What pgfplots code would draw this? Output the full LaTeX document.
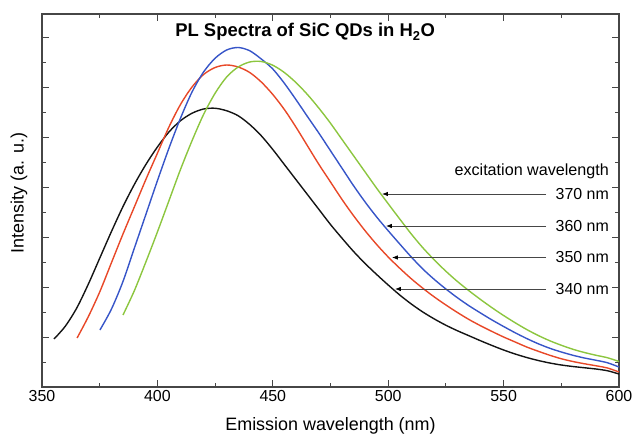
\documentclass[border=0pt]{standalone}
\usepackage{fontspec}
\setmainfont{Liberation Sans}
\usepackage{pgfplots}
\pgfplotsset{compat=1.18}
\usetikzlibrary{arrows.meta}
\definecolor{cblack}{RGB}{20,20,20}
\definecolor{cred}{RGB}{232,72,40}
\definecolor{cblue}{RGB}{55,85,200}
\definecolor{cgreen}{RGB}{140,198,63}
\definecolor{axc}{RGB}{70,70,70}
\begin{document}
\begin{tikzpicture}
\begin{axis}[
  name=ax, at={(0,0)}, anchor=south west,
  width=577bp, height=373bp, scale only axis,
  xmin=350, xmax=600, ymin=0, ymax=14.92,
  xtick={350,400,...,600}, minor xtick={375,425,...,575},
  ytick={2,4,...,14}, minor ytick={1,3,...,13}, yticklabels={},
  tick align=inside,
  major tick length=7bp, minor tick length=4bp,
  axis line style={axc, line width=1.1bp},
  every tick/.style={axc, line width=0.9bp},
  ticklabel style={font=\fontsize{16}{18}\selectfont},
  /pgf/number format/assume math mode=true,
  xticklabel style={/pgf/number format/1000 sep={}},
  xlabel={Emission wavelength (nm)},
  ylabel={Intensity (a. u.)},
  label style={font=\fontsize{18}{20}\selectfont},
  xlabel style={at={(axis description cs:0.5,0)}, anchor=base, yshift=-43bp},
  ylabel style={at={(axis description cs:-0.040,0.52)}, anchor=center},
]
% 340 nm
\addplot[cblack, line width=1.4bp, smooth] coordinates {
(355.2,1.92) (360,2.42) (365,3.15) (370,4.1) (375,5.15) (380,6.2) (385,7.2)
(390,8.1) (395,8.9) (400,9.6) (405,10.2) (410,10.65) (415,10.95) (420,11.12)
(425,11.15) (430,11.05) (435,10.85) (440,10.5) (445,10.05) (450,9.5) (455,8.9)
(460,8.3) (465,7.7) (470,7.1) (475,6.5) (480,5.95) (485,5.42) (490,4.94)
(495,4.5) (500,4.08) (505,3.68) (510,3.32) (515,3.0) (520,2.72) (525,2.47)
(530,2.25) (535,2.05) (540,1.85) (545,1.66) (550,1.48) (555,1.32) (560,1.18)
(565,1.06) (570,0.96) (575,0.88) (580,0.82) (585,0.77) (590,0.72) (595,0.65) (600,0.52)};
% 350 nm
\addplot[cred, line width=1.4bp, smooth] coordinates {
(365.2,1.96) (370,2.8) (375,3.8) (380,4.95) (385,6.1) (390,7.2) (395,8.3)
(400,9.35) (405,10.4) (410,11.3) (415,12.0) (420,12.5) (425,12.78) (430,12.88)
(435,12.8) (440,12.58) (445,12.2) (450,11.7) (455,11.1) (460,10.4) (465,9.65)
(470,8.9) (475,8.2) (480,7.5) (485,6.85) (490,6.25) (495,5.7) (500,5.2)
(505,4.75) (510,4.33) (515,3.95) (520,3.6) (525,3.28) (530,2.98) (535,2.7)
(540,2.45) (545,2.22) (550,2.0) (555,1.8) (560,1.6) (565,1.43) (570,1.27)
(575,1.13) (580,1.02) (585,0.93) (590,0.85) (595,0.76) (600,0.6)};
% 360 nm
\addplot[cblue, line width=1.4bp, smooth] coordinates {
(375.1,2.28) (380,3.1) (385,4.2) (390,5.55) (395,6.9) (400,8.25) (405,9.55)
(410,10.75) (415,11.8) (420,12.6) (425,13.15) (430,13.48) (435,13.58) (440,13.45)
(445,13.12) (450,12.72) (455,12.15) (460,11.5) (465,10.82) (470,10.15) (475,9.45)
(480,8.75) (485,8.05) (490,7.4) (495,6.8) (500,6.25) (505,5.72) (510,5.2)
(515,4.72) (520,4.3) (525,3.92) (530,3.57) (535,3.25) (540,2.96) (545,2.68)
(550,2.42) (555,2.17) (560,1.94) (565,1.73) (570,1.55) (575,1.4) (580,1.27)
(585,1.16) (590,1.07) (595,0.97) (600,0.8)};
% 370 nm
\addplot[cgreen, line width=1.4bp, smooth] coordinates {
(385.1,2.88) (390,3.85) (395,5.0) (400,6.2) (405,7.45) (410,8.7) (415,9.85)
(420,10.9) (425,11.75) (430,12.4) (435,12.8) (440,13.0) (445,13.02) (450,12.87)
(455,12.58) (460,12.18) (465,11.7) (470,11.15) (475,10.55) (480,9.9) (485,9.25)
(490,8.6) (495,7.95) (500,7.33) (505,6.72) (510,6.12) (515,5.57) (520,5.08)
(525,4.63) (530,4.22) (535,3.85) (540,3.5) (545,3.17) (550,2.86) (555,2.57)
(560,2.3) (565,2.06) (570,1.85) (575,1.67) (580,1.51) (585,1.38) (590,1.27)
(595,1.17) (600,1.02)};
% title
\node[anchor=base, font=\bfseries\fontsize{18.5}{21}\selectfont] at (axis cs:464,14.0)
  {PL Spectra of SiC QDs in H\textsubscript{2}O};
% annotations
\node[anchor=base east, inner sep=0pt, font=\fontsize{16.2}{19}\selectfont] at (axis cs:595.7,8.44) {excitation wavelength};
\foreach \yy/\xe/\lab in {7.72/497.3/370 nm, 6.44/499.0/360 nm, 5.18/501.6/350 nm, 3.92/502.9/340 nm}{
  \edef\tmp{\noexpand\draw[-{Latex[length=6bp,width=4.5bp,black]}, axc, line width=0.8bp] (axis cs:568.4,\yy) -- (axis cs:\xe,\yy);
  \noexpand\node[anchor=east, inner sep=0pt, font=\noexpand\fontsize{16}{19}\noexpand\selectfont] at (axis cs:595.7,\yy) {\lab};}
  \tmp
}
\end{axis}
\pgfresetboundingbox
\path ([shift={(-42bp,-47bp)}]ax.south west) rectangle ([shift={(17bp,14bp)}]ax.north east);
\end{tikzpicture}
\end{document}
